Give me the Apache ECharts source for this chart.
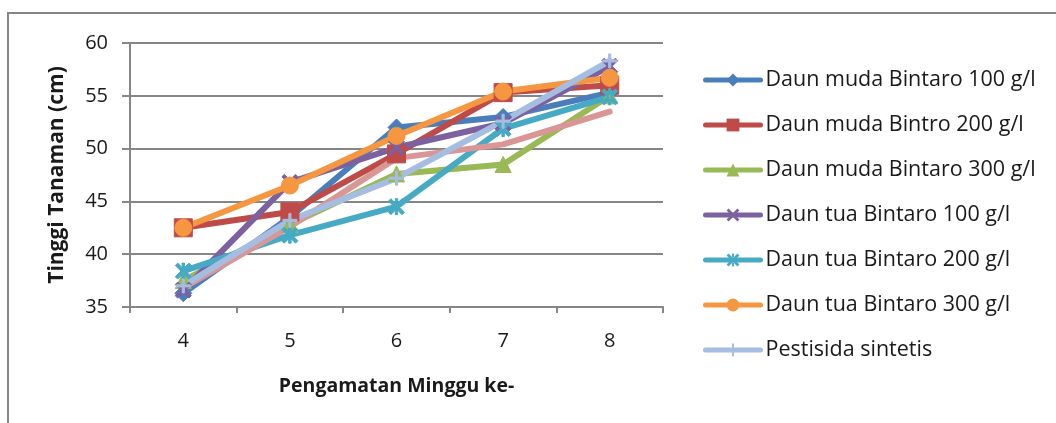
<!DOCTYPE html>
<html>
<head>
<meta charset="utf-8">
<script src="https://cdn.jsdelivr.net/npm/echarts@6/dist/echarts.min.js"></script>
<style>
  html, body { margin: 0; padding: 0; background: #fff; }
  #chart { width: 1056px; height: 423px; }
</style>
</head>
<body>
<div id="chart"></div>
<script>
// Weeks of observation
const weeks = ['4', '5', '6', '7', '8'];

// Plant height (cm) per treatment
const mudaBintaro100 = [36.3, 43.5, 52.0, 53.0, 55.3];
const mudaBintro200  = [42.5, 44.0, 49.5, 55.3, 56.0];
const mudaBintaro300 = [37.5, 42.8, 47.6, 48.5, 55.0];
const tuaBintaro100  = [36.6, 46.8, 50.1, 52.4, 57.8];
const tuaBintaro200  = [38.4, 41.8, 44.5, 51.9, 54.9];
const tuaBintaro300  = [42.5, 46.5, 51.2, 55.4, 56.7];
const pestisida      = [37.0, 43.2, 47.2, 52.6, 58.3];
const kontrol        = [36.8, 42.6, 49.1, 50.4, 53.5];

const seriesNames = [
  'Daun muda Bintaro 100 g/l',
  'Daun muda Bintro 200 g/l',
  'Daun muda Bintaro 300 g/l',
  'Daun tua Bintaro 100 g/l',
  'Daun tua Bintaro 200 g/l',
  'Daun tua Bintaro 300 g/l',
  'Pestisida sintetis'
];

const FONT = 'Open Sans';
const TEXT = '#1a1a1a';
const AXIS = '#868686';
const LINE_W = 6;
const cross = 'path://M0,3 L3,0 L10,7 L17,0 L20,3 L13,10 L20,17 L17,20 L10,13 L3,20 L0,17 L7,10 Z';
const star = 'path://M0,3 L3,0 L10,7 L17,0 L20,3 L13,10 L20,17 L17,20 L10,13 L3,20 L0,17 L7,10 Z M8.5,0 L8.5,20 L11.5,20 L11.5,0 Z';
const plus = 'path://M8.5,0 L11.5,0 L11.5,8.5 L20,8.5 L20,11.5 L11.5,11.5 L11.5,20 L8.5,20 L8.5,11.5 L0,11.5 L0,8.5 L8.5,8.5 Z';

function line(name, data, color, symbol, size) {
  return {
    name: name,
    type: 'line',
    data: data,
    symbol: symbol,
    symbolSize: size,
    showAllSymbol: true,
    lineStyle: { color: color, width: LINE_W, cap: 'round', join: 'round' },
    itemStyle: { color: color, borderColor: color, borderWidth: 1 },
    emphasis: { disabled: true }
  };
}

const chart = echarts.init(document.getElementById('chart'), null, { renderer: 'canvas' });
chart.setOption({
  animation: false,
  backgroundColor: '#ffffff',
  graphic: [{
    type: 'rect',
    shape: { x: 8, y: 13, width: 1060, height: 420 },
    style: { fill: 'none', stroke: AXIS, lineWidth: 2 },
    z: -1
  }],
  grid: { left: 130, right: 393, top: 43, bottom: 116 },
  legend: {
    data: seriesNames.map(function (n) {
      return { name: n, itemStyle: { borderWidth: 0 } };
    }),
    orient: 'vertical',
    left: 698,
    top: 64,
    itemWidth: 55,
    itemHeight: 16,
    itemGap: 23,
    lineStyle: { width: 5 },
    textStyle: { fontFamily: FONT, fontSize: 21.5, color: TEXT }
  },
  xAxis: {
    type: 'category',
    data: weeks,
    boundaryGap: true,
    name: 'Pengamatan Minggu ke-',
    nameLocation: 'middle',
    nameGap: 69,
    nameTextStyle: { fontFamily: FONT, fontSize: 19.5, fontWeight: 'bold', color: TEXT },
    axisLine: { lineStyle: { color: AXIS, width: 2 } },
    axisTick: { show: true, length: 6, lineStyle: { color: AXIS, width: 2 } },
    axisLabel: { fontFamily: FONT, fontSize: 20, color: TEXT, margin: 24 }
  },
  yAxis: {
    type: 'value',
    min: 35,
    max: 60,
    interval: 5,
    name: 'Tinggi Tanaman (cm)',
    nameLocation: 'middle',
    nameGap: 62,
    nameTextStyle: { fontFamily: FONT, fontSize: 21, fontWeight: 'bold', color: TEXT },
    axisLine: { show: true, lineStyle: { color: AXIS, width: 2 } },
    axisTick: { show: true, length: 8, lineStyle: { color: AXIS, width: 2 } },
    splitLine: { lineStyle: { color: AXIS, width: 2 } },
    axisLabel: { fontFamily: FONT, fontSize: 20, color: TEXT, margin: 22 }
  },
  series: [
    line(seriesNames[0], mudaBintaro100, '#4A7EBB', 'diamond', 17),
    line(seriesNames[1], mudaBintro200, '#BE4B48', 'rect', 18),
    line(seriesNames[2], mudaBintaro300, '#98B954', 'triangle', 16),
    line(seriesNames[3], tuaBintaro100, '#7D60A0', cross, 16),
    line(seriesNames[4], tuaBintaro200, '#46AAC5', star, 16),
    line('Kontrol', kontrol, '#D99694', 'none', 0),
    line(seriesNames[5], tuaBintaro300, '#F59640', 'circle', 17),
    line(seriesNames[6], pestisida, '#A5BDE0', plus, 14)
  ]
});
</script>
</body>
</html>
